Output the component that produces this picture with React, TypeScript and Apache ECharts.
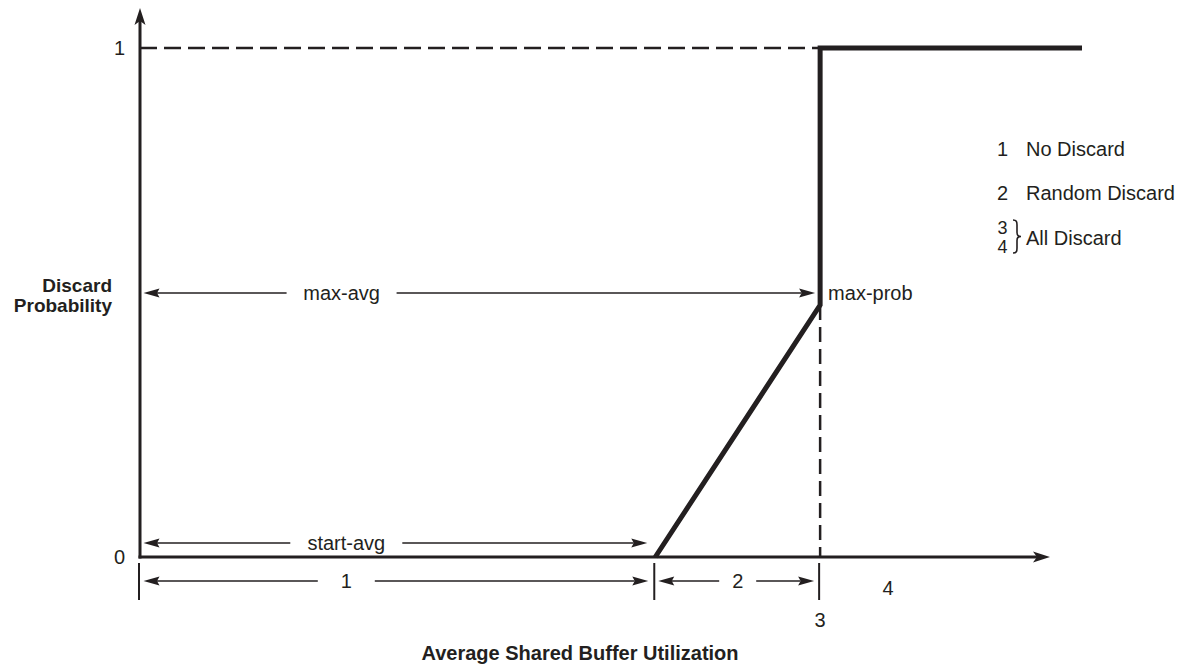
import React, { useEffect, useRef } from 'react';
import * as echarts from 'echarts';

const INK = '#231f20';
const FONT = '"Liberation Sans", Arial, Helvetica, sans-serif';

// x: average shared buffer utilisation (plot runs 0..100), y: discard probability
const X_MAX = 100;
const X_ARROW_END = 96.6;
const Y_AXIS_MAX = 1.0786;
const START_AVG = 54.7;
const MAX_AVG = 72.2;
const MAX_PROB = 0.495;
const REGION4_X = 79.4;

const yTickValues = [0, 1];
const curveX = [START_AVG, MAX_AVG, MAX_AVG, X_MAX];
const curveY = [0, MAX_PROB, 1, 1];
const boundaries = [0, START_AVG, MAX_AVG];

// dimension arrows: from, to, level (y value), label, label position (x value)
const dimFrom = [0, 0, 0, START_AVG];
const dimTo = [MAX_AVG, START_AVG, START_AVG, MAX_AVG];
const dimLevel = [MAX_PROB, 0, 0, 0];
const dimLabel = ['max-avg', 'start-avg', '1', '2'];
const dimLabelAt = [21.4, 21.9, 21.9, (START_AVG + MAX_AVG) / 2];
// layout of those arrows (pixels): vertical offset, half gap around label, tip insets
const dimDy = [-12, -14, 24, 24];
const dimGap = [55, 56, 28.5, 18.5];
const dimInset = [[3.5, 5], [3.5, 8], [3.5, 7], [3, 6]];

// annotations placed at data positions
const noteLabels = ['max-prob', '3', '4'];
const noteX = [MAX_AVG, MAX_AVG, REGION4_X];
const noteY = [MAX_PROB, 0, 0];
const noteOffset = [[8, -12], [0, 63], [0, 31]];
const noteAlign = ['left', 'center', 'center'];

const legendNums = ['1', '2'];
const legendNames = ['No Discard', 'Random Discard'];
const legendGroupNums = ['3', '4'];
const legendGroupName = 'All Discard';

echarts.graphic.registerShape(
  'brace',
  echarts.graphic.extendPath(
    'M0,0 C3.5,0 4,1.5 4,5 L4,12.5 C4,15.5 5,16.5 8,16.5 C5,16.5 4,17.5 4,20.5 L4,28 C4,31.5 3.5,33 0,33',
    {}
  ) as any
);

function dart(tx: number, ty: number, dx: number, dy: number, L: number, H: number, N: number) {
  // arrowhead with tip at (tx,ty) pointing along unit vector (dx,dy)
  const px = -dy;
  const py = dx;
  return [
    [tx, ty],
    [tx - dx * L + px * H, ty - dy * L + py * H],
    [tx - dx * (L - N), ty - dy * (L - N)],
    [tx - dx * L - px * H, ty - dy * L - py * H],
  ];
}

function buildOption() {
  const txt = (text: string, x: number, y: number, extra: any = {}) => ({
    type: 'text',
    x,
    y,
    style: {
      text,
      fill: INK,
      fontSize: 20,
      fontFamily: FONT,
      align: 'left',
      verticalAlign: 'middle',
      ...extra,
    },
  });

  const graphics: any[] = [];
  legendNums.forEach((n, i) => {
    const y = 149 + i * 44;
    graphics.push(txt(n, 997, y));
    graphics.push(txt(legendNames[i], 1026, y));
  });
  legendGroupNums.forEach((n, i) => {
    graphics.push(txt(n, 997.5, 227.5 + i * 19.5, { fontSize: 18 }));
  });
  graphics.push({
    type: 'brace',
    x: 1013,
    y: 220,
    style: { stroke: INK, fill: 'none', lineWidth: 1.6 },
  });
  graphics.push(txt(legendGroupName, 1026, 238));
  graphics.push(
    txt('Discard\nProbability', 112, 295, {
      fontWeight: 'bold',
      fontSize: 19,
      align: 'right',
      lineHeight: 20,
    })
  );
  graphics.push(
    txt('Average Shared Buffer Utilization', 580, 653, {
      fontWeight: 'bold',
      fontSize: 20,
      align: 'center',
    })
  );

  return {
    animation: false,
    backgroundColor: '#ffffff',
    grid: { left: 140, right: 98, top: 8, bottom: 108, containLabel: false },
    xAxis: {
      type: 'value',
      min: 0,
      max: X_MAX,
      axisLine: { show: false },
      axisTick: { show: false },
      axisLabel: { show: false },
      splitLine: { show: false },
    },
    yAxis: {
      type: 'value',
      min: 0,
      max: Y_AXIS_MAX,
      interval: 1,
      axisLine: { show: false },
      axisTick: { show: false },
      splitLine: { show: false },
      axisLabel: {
        margin: 15,
        color: INK,
        fontSize: 20,
        fontFamily: FONT,
        formatter: (v: number) => (yTickValues.indexOf(v) >= 0 ? String(v) : ''),
      },
    },
    graphic: graphics,
    series: [
      {
        type: 'line',
        symbol: 'none',
        silent: true,
        lineStyle: { color: INK, width: 2.5, type: [17, 7] },
        data: [
          [0, 1],
          [MAX_AVG, 1],
        ],
      },
      {
        type: 'line',
        symbol: 'none',
        silent: true,
        lineStyle: { color: INK, width: 2.5, type: [15, 7] },
        data: [
          [MAX_AVG, MAX_PROB],
          [MAX_AVG, 0],
        ],
      },
      {
        // axes with arrowheads
        type: 'custom',
        coordinateSystem: 'cartesian2d',
        clip: false,
        silent: true,
        data: [
          [X_ARROW_END, 0],
          [0, Y_AXIS_MAX],
        ],
        renderItem: (params: any, api: any) => {
          const o = api.coord([0, 0]);
          const horizontal = params.dataIndex === 0;
          const t = horizontal ? api.coord([X_ARROW_END, 0]) : api.coord([0, Y_AXIS_MAX]);
          const dx = horizontal ? 1 : 0;
          const dy = horizontal ? 0 : -1;
          const L = 17;
          const H = 5.5;
          const N = 4;
          return {
            type: 'group',
            children: [
              {
                type: 'line',
                shape: {
                  x1: horizontal ? o[0] - 1.5 : o[0],
                  y1: horizontal ? o[1] : o[1] + 1.5,
                  x2: t[0] - dx * (L - N),
                  y2: t[1] - dy * (L - N),
                },
                style: { stroke: INK, lineWidth: 3 },
              },
              {
                type: 'polygon',
                shape: { points: dart(t[0], t[1], dx, dy, L, H, N) },
                style: { fill: INK },
              },
            ],
          };
        },
      },
      {
        type: 'line',
        symbol: 'none',
        silent: true,
        lineStyle: { color: INK, width: 5, join: 'miter', cap: 'butt' },
        data: curveX.map((x, i) => [x, curveY[i]]),
      },
      {
        type: 'custom',
        coordinateSystem: 'cartesian2d',
        clip: false,
        silent: true,
        data: boundaries.map((b) => [b, 0]),
        renderItem: (params: any, api: any) => {
          const p = api.coord([boundaries[params.dataIndex], 0]);
          return {
            type: 'line',
            shape: { x1: p[0] - 1, y1: p[1] + 6, x2: p[0] - 1, y2: p[1] + 43 },
            style: { stroke: INK, lineWidth: 2 },
          };
        },
      },
      {
        type: 'custom',
        coordinateSystem: 'cartesian2d',
        clip: false,
        silent: true,
        data: dimFrom.map((f, i) => [f, dimLevel[i]]),
        renderItem: (params: any, api: any) => {
          const i = params.dataIndex;
          const a = api.coord([dimFrom[i], dimLevel[i]]);
          const b = api.coord([dimTo[i], dimLevel[i]]);
          const c = api.coord([dimLabelAt[i], dimLevel[i]]);
          const y = a[1] + dimDy[i];
          const xl = a[0] + dimInset[i][0];
          const xr = b[0] - dimInset[i][1];
          const L = 16;
          const H = 4.5;
          const N = 2.5;
          const ls = { stroke: INK, lineWidth: 1.4 };
          return {
            type: 'group',
            children: [
              { type: 'line', shape: { x1: xl + L - N, y1: y, x2: c[0] - dimGap[i], y2: y }, style: ls },
              { type: 'line', shape: { x1: c[0] + dimGap[i], y1: y, x2: xr - L + N, y2: y }, style: ls },
              { type: 'polygon', shape: { points: dart(xl, y, -1, 0, L, H, N) }, style: { fill: INK } },
              { type: 'polygon', shape: { points: dart(xr, y, 1, 0, L, H, N) }, style: { fill: INK } },
              {
                type: 'text',
                x: c[0],
                y: y,
                style: {
                  text: dimLabel[i],
                  fill: INK,
                  fontSize: 20,
                  fontFamily: FONT,
                  align: 'center',
                  verticalAlign: 'middle',
                },
              },
            ],
          };
        },
      },
      {
        type: 'custom',
        coordinateSystem: 'cartesian2d',
        clip: false,
        silent: true,
        data: noteX.map((x, i) => [x, noteY[i]]),
        renderItem: (params: any, api: any) => {
          const i = params.dataIndex;
          const p = api.coord([noteX[i], noteY[i]]);
          return {
            type: 'text',
            x: p[0] + noteOffset[i][0],
            y: p[1] + noteOffset[i][1],
            style: {
              text: noteLabels[i],
              fill: INK,
              fontSize: 20,
              fontFamily: FONT,
              align: noteAlign[i],
              verticalAlign: 'middle',
            },
          };
        },
      },
    ],
  };
}

export default function App() {
  const ref = useRef<HTMLDivElement>(null);
  useEffect(() => {
    if (!ref.current) return;
    const chart = echarts.init(ref.current, null, { renderer: 'svg' });
    chart.setOption(buildOption() as any);
    return () => chart.dispose();
  }, []);
  return (
    <div
      ref={ref}
      style={{ position: 'absolute', left: 0, top: 0, width: 1180, height: 665, background: '#fff' }}
    />
  );
}
